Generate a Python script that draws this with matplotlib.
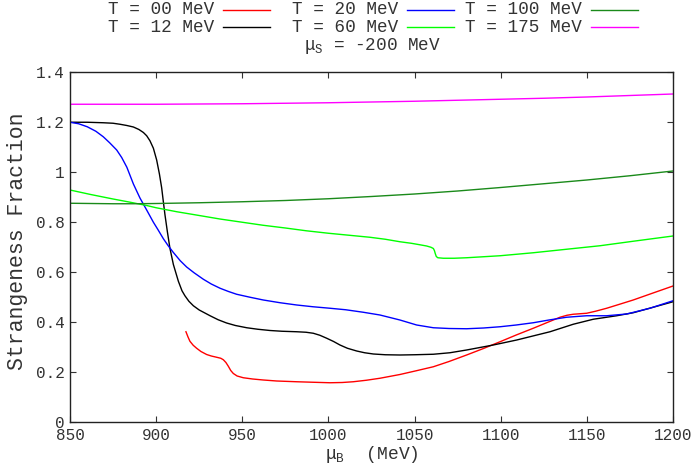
import matplotlib
matplotlib.use("Agg")
import matplotlib.pyplot as plt
from matplotlib.lines import Line2D

plt.rcParams['font.family'] = ['Liberation Mono', 'DejaVu Sans Mono']
plt.rcParams['mathtext.fontset'] = 'custom'
plt.rcParams['mathtext.rm'] = 'Liberation Mono'
plt.rcParams['mathtext.it'] = 'Liberation Mono'

# ---- data ----
x_t00 = [917.3, 918.5, 919.6, 921.5, 923.5, 926.0, 929.3, 932.0, 935.1, 937.5, 939.0, 940.5,
         941.9, 943.3, 944.8, 947.0, 950.6, 956.0, 962.2, 970.0, 981.6, 991.0, 1000.9, 1008.0,
         1014.4, 1022.0, 1029.9, 1041.5, 1051.0, 1060.9, 1070.0, 1080.2, 1090.0, 1099.6,
         1109.0, 1118.9, 1127.0, 1134.4, 1138.5, 1142.1, 1146.0, 1149.9, 1155.0, 1161.5,
         1169.0, 1176.9, 1188.0, 1200.0]
y_t00 = [0.361, 0.340, 0.323, 0.307, 0.295, 0.282, 0.270, 0.264, 0.259, 0.255, 0.249, 0.238,
         0.223, 0.206, 0.194, 0.184, 0.177, 0.172, 0.168, 0.164, 0.161, 0.159, 0.157, 0.158,
         0.161, 0.167, 0.175, 0.190, 0.205, 0.221, 0.242, 0.268, 0.294, 0.321,
         0.348, 0.375, 0.398, 0.419, 0.427, 0.431, 0.433, 0.435, 0.443, 0.455,
         0.471, 0.488, 0.515, 0.544]

x_t12 = [850.0, 860.0, 869.3, 875.0, 879.0, 883.0, 886.8, 890.0, 892.6, 894.5, 896.4, 898.4,
         900.3, 901.9, 903.2, 904.2, 905.1, 906.5, 908.0, 910.0, 912.9, 915.0, 916.7, 919.0,
         921.6, 925.0, 931.3, 936.0, 940.9, 946.0, 952.6, 959.0, 966.1, 973.0, 981.6, 987.0,
         991.2, 995.0, 999.0, 1003.0, 1006.7, 1011.0, 1016.4, 1021.0, 1026.1, 1033.0, 1041.5,
         1050.0, 1060.9, 1070.5, 1080.2, 1095.7, 1109.3, 1128.6, 1142.1, 1153.7, 1167.3,
         1176.9, 1188.5, 1200.0]
y_t12 = [1.199, 1.199, 1.197, 1.195, 1.191, 1.186, 1.180, 1.170, 1.158, 1.145, 1.125, 1.095,
         1.048, 0.992, 0.937, 0.880, 0.830, 0.762, 0.695, 0.630, 0.563, 0.525, 0.505, 0.483,
         0.465, 0.448, 0.425, 0.409, 0.396, 0.386, 0.377, 0.371, 0.366, 0.363, 0.361, 0.359,
         0.355, 0.347, 0.335, 0.322, 0.308, 0.295, 0.284, 0.277, 0.272, 0.269, 0.268,
         0.269, 0.271, 0.277, 0.288, 0.308, 0.328, 0.361, 0.391, 0.411, 0.425,
         0.437, 0.459, 0.481]

x_t20 = [850.0, 855.0, 860.0, 865.0, 869.3, 873.0, 877.1, 880.0, 883.0, 886.8, 890.6, 894.5,
         898.4, 901.0, 904.2, 907.0, 910.0, 914.0, 917.7, 922.0, 927.4, 932.0, 937.1, 942.0,
         946.7, 954.5, 962.2, 972.0, 981.6, 991.0, 1000.9, 1010.0, 1020.2, 1029.9, 1041.5,
         1051.2, 1060.9, 1070.0, 1080.2, 1090.0, 1099.6, 1109.0, 1118.9, 1128.0, 1138.2,
         1149.9, 1161.5, 1173.1, 1186.6, 1200.0]
y_t20 = [1.199, 1.193, 1.181, 1.163, 1.141, 1.117, 1.088, 1.058, 1.019, 0.952, 0.896, 0.848,
         0.799, 0.770, 0.733, 0.705, 0.678, 0.645, 0.620, 0.597, 0.571, 0.552, 0.535, 0.522,
         0.511, 0.499, 0.488, 0.477, 0.468, 0.461, 0.455, 0.449, 0.439, 0.428, 0.408,
         0.388, 0.377, 0.374, 0.373, 0.376, 0.381, 0.388, 0.397, 0.408, 0.419,
         0.425, 0.425, 0.432, 0.455, 0.485]

x_t60 = [850.0, 862.0, 875.0, 885.0, 894.5, 900.0, 912.0, 925.0, 937.0, 950.0, 962.0, 975.0,
         987.0, 1000.0, 1012.0, 1024.0, 1033.0, 1041.5, 1048.0, 1053.0, 1057.0, 1059.5,
         1060.9, 1061.5, 1062.0, 1062.6, 1063.5, 1066.7, 1073.0, 1080.2, 1099.6, 1118.9,
         1138.2, 1157.6, 1176.9, 1200.0]
y_t60 = [0.928, 0.910, 0.892, 0.879, 0.866, 0.857, 0.841, 0.826, 0.812, 0.799, 0.787, 0.776,
         0.765, 0.755, 0.747, 0.739, 0.731, 0.721, 0.715, 0.709, 0.704, 0.699,
         0.694, 0.686, 0.674, 0.662, 0.657, 0.655, 0.655, 0.657, 0.665, 0.677,
         0.691, 0.705, 0.723, 0.744]

x_t100 = [850.0, 862.0, 875.0, 887.0, 900.0, 925.0, 950.0, 975.0, 1000.0, 1025.0, 1050.0,
          1075.0, 1100.0, 1125.0, 1150.0, 1175.0, 1200.0]
y_t100 = [0.875, 0.874, 0.873, 0.873, 0.874, 0.877, 0.881, 0.886, 0.893, 0.902, 0.912,
          0.924, 0.938, 0.953, 0.968, 0.985, 1.004]

x_t175 = [850.0, 875.0, 900.0, 925.0, 950.0, 975.0, 1000.0, 1025.0, 1050.0, 1075.0, 1100.0,
          1125.0, 1150.0, 1175.0, 1200.0]
y_t175 = [1.271, 1.271, 1.271, 1.272, 1.273, 1.275, 1.277, 1.280, 1.283, 1.287, 1.291,
          1.295, 1.300, 1.306, 1.312]

labels = ['T = 00 MeV', 'T = 12 MeV', 'T = 20 MeV', 'T = 60 MeV', 'T = 100 MeV', 'T = 175 MeV']
colors = ['#ff0000', '#000000', '#0000ff', '#00ff00', '#1a8a1a', '#ff00ff']

x_ticks = [850, 900, 950, 1000, 1050, 1100, 1150, 1200]
x_ticklabels = ['850', '900', '950', '1000', '1050', '1100', '1150', '1200']
y_ticks = [0, 0.2, 0.4, 0.6, 0.8, 1.0, 1.2, 1.4]
y_ticklabels = ['0', '0.2', '0.4', '0.6', '0.8', '1', '1.2', '1.4']

W, H = 698, 472

# ---- figure ----
fig = plt.figure(figsize=(W / 100, H / 100), dpi=100)
ax = fig.add_axes([70 / W, 1 - 422 / H, (673 - 70) / W, (422 - 72) / H])

series = [(x_t00, y_t00), (x_t12, y_t12), (x_t20, y_t20),
          (x_t60, y_t60), (x_t100, y_t100), (x_t175, y_t175)]
for (xs, ys), c, lab in zip(series, colors, labels):
    ax.plot(xs, ys, color=c, lw=1.0, label=lab, solid_joinstyle='round')

ax.set_xlim(850, 1200)
ax.set_ylim(0, 1.4)
ax.set_xticks(x_ticks)
ax.set_xticklabels(x_ticklabels)
ax.set_yticks(y_ticks)
ax.set_yticklabels(y_ticklabels)
ax.tick_params(direction='in', length=4.5, width=0.8, top=True, right=True,
               labelsize=11.5, pad=4, colors='#333333', labelcolor='#333333')
for s in ax.spines.values():
    s.set_linewidth(1.0)
    s.set_color('#222222')

fig.text(18 / W, 1 - 241 / H, 'Strangeness Fraction', rotation=90, ha='center', va='center',
         fontsize=15.5, color='#333333')
ax.set_xlabel('μ$_\\mathrm{B}$  (MeV)', fontsize=13, color='#333333', labelpad=1)

# ---- key (gnuplot style: text right-aligned, sample line on the right) ----
row_y = [10, 27]
col_line_end = [270, 454, 638]
line_len = 47
gap = 9
for i, (lab, c) in enumerate(zip(labels, colors)):
    col, row = i // 2, i % 2
    xe = col_line_end[col]
    xs0 = xe - line_len
    yy = 1 - row_y[row] / H
    fig.add_artist(Line2D([xs0 / W, xe / W], [yy, yy], color=c, lw=1.0,
                          transform=fig.transFigure))
    fig.text((xs0 - gap) / W, yy, lab, ha='right', va='center', fontsize=12.7,
             color='#333333')

fig.text(372 / W, 1 - 46 / H, 'μ$_\\mathrm{S}$ = -200 MeV', ha='center', va='center',
         fontsize=12.7, color='#333333')

fig.savefig('out.png', dpi=100)
